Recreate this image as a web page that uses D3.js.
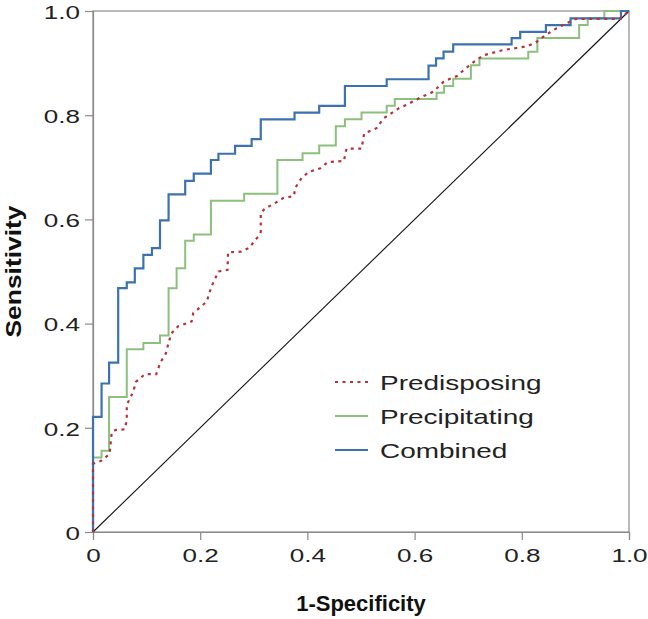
<!DOCTYPE html>
<html><head><meta charset="utf-8">
<script src="https://cdn.jsdelivr.net/npm/d3@7"></script>
<style>body{margin:0;background:#fff}svg{display:block}text{font-family:"Liberation Sans",Arial,sans-serif}</style>
</head><body><svg id="c" width="648" height="619"></svg>
<script>
const seriesNames = ["Predisposing", "Precipitating", "Combined"];
const seriesColors = ["#b5323a", "#8cc07c", "#3d72b0"];
const xTicks = [0, 0.2, 0.4, 0.6, 0.8, 1.0];
const yTicks = [0, 0.2, 0.4, 0.6, 0.8, 1.0];
const tickLabels = ["0", "0.2", "0.4", "0.6", "0.8", "1.0"];

// Predisposing (1-specificity, sensitivity)
const predFpr = [0,0,0.016,0.031,0.035,0.043,0.059,0.063,0.063,0.075,0.080,0.097,0.118,0.126,0.136,0.140,0.146,0.159,0.184,0.187,0.212,0.221,0.234,0.251,0.252,0.276,0.291,0.308,0.313,0.313,0.321,0.336,0.355,0.375,0.377,0.389,0.402,0.424,0.438,0.468,0.473,0.501,0.506,0.529,0.542,0.557,0.570,0.585,0.613,0.635,0.654,0.666,0.679,0.691,0.710,0.728,0.747,0.765,0.790,0.812,0.828,0.843,0.865,0.887,0.901,0.983,1];
const predTpr = [0,0.131,0.137,0.150,0.192,0.196,0.197,0.215,0.244,0.269,0.288,0.303,0.303,0.326,0.343,0.359,0.381,0.395,0.404,0.420,0.442,0.471,0.500,0.503,0.537,0.538,0.545,0.567,0.576,0.612,0.621,0.629,0.641,0.645,0.660,0.679,0.691,0.698,0.710,0.712,0.736,0.736,0.765,0.775,0.794,0.804,0.813,0.820,0.835,0.845,0.864,0.870,0.875,0.886,0.902,0.915,0.920,0.925,0.929,0.933,0.941,0.953,0.967,0.978,0.985,0.985,1];

// Precipitating (step)
const precFpr = [0,0,0.016,0.030,0.063,0.094,0.125,0.141,0.156,0.172,0.188,0.220,0.282,0.344,0.391,0.422,0.453,0.470,0.501,0.548,0.563,0.641,0.655,0.672,0.705,0.721,0.812,0.829,0.907,0.923,0.954,1];
const precTpr = [0,0.143,0.156,0.259,0.351,0.363,0.377,0.468,0.506,0.559,0.571,0.636,0.649,0.714,0.727,0.742,0.779,0.792,0.805,0.818,0.831,0.843,0.856,0.870,0.896,0.909,0.922,0.948,0.973,0.986,1,1];

// Combined (step)
const combFpr = [0,0,0.016,0.030,0.047,0.063,0.078,0.094,0.110,0.125,0.141,0.172,0.188,0.220,0.234,0.265,0.296,0.313,0.376,0.422,0.470,0.548,0.626,0.640,0.654,0.672,0.781,0.797,0.845,0.891,0.985,1];
const combTpr = [0,0.221,0.285,0.325,0.468,0.479,0.506,0.532,0.545,0.598,0.648,0.674,0.688,0.714,0.726,0.741,0.754,0.792,0.805,0.818,0.856,0.869,0.895,0.909,0.922,0.936,0.948,0.960,0.973,0.986,1,1];

const svg = d3.select("#c");
const m = {l:93, t:11, r:648-629, b:619-532};
const W = 648 - m.l - m.r, H = 619 - m.t - m.b;
const x = d3.scaleLinear().domain([0,1]).range([m.l, m.l+W]);
const y = d3.scaleLinear().domain([0,1]).range([m.t+H, m.t]);
const axisColor = "#8a8a8a";

function stretch(sel, k){
  sel.each(function(){
    const len = this.getComputedTextLength();
    d3.select(this).attr("textLength", len*k).attr("lengthAdjust","spacingAndGlyphs");
  });
}

// frame
svg.append("rect").attr("x", x(0)).attr("y", y(1)).attr("width", W).attr("height", H)
  .attr("fill","none").attr("stroke", axisColor).attr("stroke-width",1.2);

const xa = svg.append("g").attr("transform",`translate(0,${y(0)})`)
  .call(d3.axisBottom(x).tickValues(xTicks).tickSize(8).tickFormat((d,i)=>tickLabels[i]));
const ya = svg.append("g").attr("transform",`translate(${x(0)},0)`)
  .call(d3.axisLeft(y).tickValues(yTicks).tickSize(8).tickFormat((d,i)=>tickLabels[i]));
[xa,ya].forEach(g=>{
  g.select(".domain").attr("stroke",axisColor).attr("stroke-width",1.2);
  g.selectAll(".tick line").attr("stroke",axisColor).attr("stroke-width",1.2);
  g.selectAll(".tick text").attr("fill","#222").style("font-size","18.6px").style("font-family","Liberation Sans, Arial, sans-serif");
});
xa.selectAll(".tick text").attr("dy",null).attr("y",30);
ya.selectAll(".tick text").attr("x",-13).attr("dy","0.39em");
stretch(xa.selectAll(".tick text"), 1.4);
stretch(ya.selectAll(".tick text"), 1.4);

// diagonal
svg.append("line").attr("x1",x(0)).attr("y1",y(0)).attr("x2",x(1)).attr("y2",y(1))
  .attr("stroke","#111").attr("stroke-width",1.1);

const stepLine = d3.line().x(d=>x(d[0])).y(d=>y(d[1])).curve(d3.curveStepAfter);
const linLine = d3.line().x(d=>x(d[0])).y(d=>y(d[1]));

svg.append("path").datum(d3.zip(precFpr,precTpr)).attr("d",stepLine)
  .attr("fill","none").attr("stroke",seriesColors[1]).attr("stroke-width",2);
svg.append("path").datum(d3.zip(combFpr,combTpr)).attr("d",stepLine)
  .attr("fill","none").attr("stroke",seriesColors[2]).attr("stroke-width",2.2);
svg.append("path").datum(d3.zip(predFpr,predTpr)).attr("d",linLine)
  .attr("fill","none").attr("stroke",seriesColors[0]).attr("stroke-width",2.2)
  .attr("stroke-dasharray","3,4.5");

// legend
const lg = svg.append("g");
const lgY = [382, 416, 450];
seriesNames.forEach((n,i)=>{
  const l = lg.append("line").attr("x1",335).attr("x2",368).attr("y1",lgY[i]).attr("y2",lgY[i])
    .attr("stroke",seriesColors[i]).attr("stroke-width",2);
  if(i===0) l.attr("stroke-dasharray","3,4.5");
  lg.append("text").attr("x",380).attr("y",lgY[i]).attr("dy","0.36em")
    .attr("fill","#222").style("font-size","21px").text(n);
});
stretch(lg.selectAll("text"), 1.33);

// titles
svg.append("text").attr("x", x(0.5)).attr("y", 611).attr("text-anchor","middle")
  .style("font-size","22px").style("font-weight","bold").attr("fill","#111").text("1-Specificity");
const yt = svg.append("text").attr("transform",`translate(21,${y(0.5)}) rotate(-90)`).attr("text-anchor","middle")
  .style("font-size","22px").style("font-weight","bold").attr("fill","#111").text("Sensitivity");
stretch(yt, 1.2);
</script></body></html>
